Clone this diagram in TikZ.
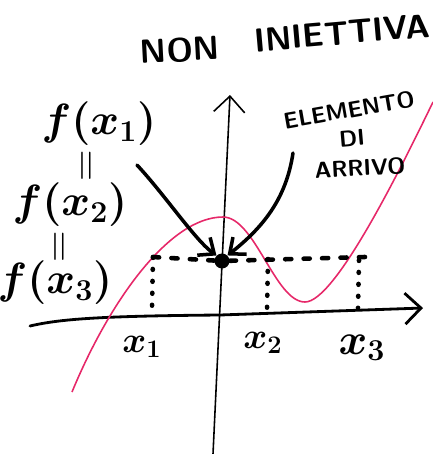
\documentclass[tikz,border=0pt]{standalone}
\usepackage{amsmath,amssymb}
\usepackage{xcolor}
\usepackage{tikz}
\usetikzlibrary{arrows.meta}

\definecolor{rosa}{RGB}{230,40,105}

\begin{document}
\begin{tikzpicture}[
  x=0.02cm, y=-0.02cm,
  every node/.style={font=\sffamily\bfseries},
  freccia/.style={-{Straight Barb[length=2.6mm,width=4.4mm]}, line width=2pt, line cap=round},
  asse/.style={-{Straight Barb[length=3.2mm,width=6.2mm]}, line cap=round},
  puntini/.style={line width=2.6pt, line cap=round, dash pattern=on 0.5pt off 6.3pt},
  tratti/.style={line width=2.6pt, line cap=round, dash pattern=on 3.5pt off 7pt},
  valore/.style={font=\boldmath\fontsize{23}{28}\selectfont},
  uguale/.style={font=\fontsize{24}{26}\selectfont, rotate=90},
  ascissa/.style={font=\boldmath\fontsize{20}{24}\selectfont}
]

\useasboundingbox (0,0) rectangle (433,454);

% Titolo
\node[font=\sffamily\bfseries\fontsize{19}{22}\selectfont, rotate=3] (non) at (180,50) {NON};
\node[font=\sffamily\bfseries\fontsize{19}{22}\selectfont, rotate=5] (iniettiva) at (342,33) {INIETTIVA};

% Assi
\coordinate (xsx) at (30,326);
\coordinate (xdx) at (423,308);
\coordinate (ybasso) at (213,454);
\coordinate (yalto) at (230,95);
\draw[asse, line width=1.6pt] (xsx) .. controls (60,319) and (100,316) .. (220,315) -- (xdx);
\draw[asse, line width=0.9pt] (ybasso) -- (yalto);

% Funzione
\draw[rosa, line width=0.9pt] (72,392) .. controls (110,300) and (170,217) .. (223,217)
  .. controls (255,217) and (275,302) .. (305,302)
  .. controls (335,302) and (400,170) .. (433,102);

% Punti sulla curva e sull'asse
\coordinate (p1) at (153,257);
\coordinate (p2) at (268,259);
\coordinate (p3) at (365,257);
\coordinate (p3b) at (359,260);
\coordinate (q1) at (152,308);
\coordinate (q2) at (267,310);
\coordinate (q3) at (358,308);
\node[circle, fill, inner sep=0pt, minimum size=0.3cm] (punto) at (222,261) {};

\draw[tratti] (p1) -- (punto) -- (p3);
\draw[puntini] (p1) -- (q1);
\draw[puntini] (p2) -- (q2);
\draw[puntini] (p3b) -- (q3);

% Ascisse
\node[ascissa] (xa) at (142,347) {$x_1$};
\node[ascissa] (xb) at (263,343) {$x_2$};
\node[ascissa, font=\boldmath\fontsize{24}{28}\selectfont] (xc) at (362,348) {$x_3$};

% Valori uguali
\node[valore] (fxa) at (99,124) {$f(x_1)$};
\node[uguale] (eqa) at (89,166) {$=$};
\node[valore] (fxb) at (70,205) {$f(x_2)$};
\node[uguale] (eqb) at (62,247) {$=$};
\node[valore] (fxc) at (55,283) {$f(x_3)$};

% Elemento di arrivo
\node[font=\sffamily\bfseries\fontsize{13}{15}\selectfont, rotate=10] (elemento) at (349,110) {ELEMENTO};
\node[font=\sffamily\bfseries\fontsize{13}{15}\selectfont, rotate=5] (di) at (352,138) {DI};
\node[font=\sffamily\bfseries\fontsize{13}{15}\selectfont, rotate=3] (arrivo) at (360,168) {ARRIVO};

% Frecce
\coordinate (coda1) at (137,165);
\coordinate (coda2) at (293,153);
\draw[freccia] (coda1) .. controls (165,195) and (195,240) .. (punto.north west);
\draw[freccia] (coda2) .. controls (286,200) and (262,228) .. (punto.north east);

\end{tikzpicture}
\end{document}
